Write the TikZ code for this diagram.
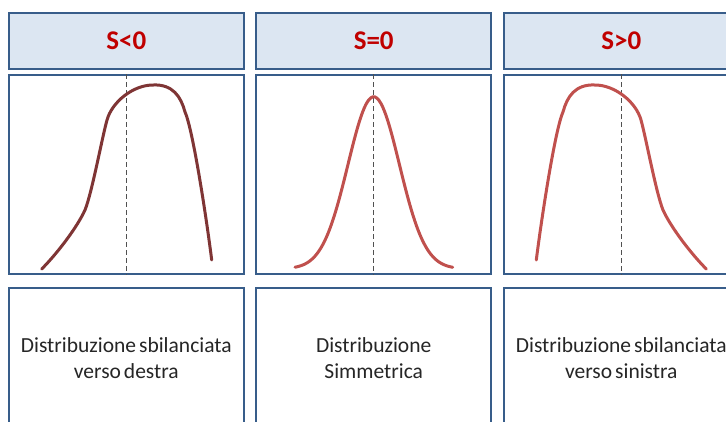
\documentclass[tikz,border=0pt]{standalone}
\usepackage{fontspec}
\setmainfont{Carlito}
\definecolor{bordblue}{HTML}{385D8A}
\definecolor{hdrfill}{HTML}{DCE6F2}
\definecolor{hdrred}{HTML}{C00000}
\definecolor{curvedark}{HTML}{7F3535}
\definecolor{curvered}{HTML}{C0504D}
\definecolor{dashgray}{HTML}{505050}
\newcommand\descfont{\fontsize{21.5}{26}\selectfont\spaceskip=3pt plus 1pt\relax}
\tikzset{
  hdr/.style={draw=bordblue, line width=2pt, fill=hdrfill, minimum width=234.5pt, minimum height=56.3pt, inner sep=0pt, text=hdrred, font=\fontsize{27}{32}\selectfont\bfseries},
  graphbox/.style={draw=bordblue, line width=2pt, fill=white, minimum width=234.5pt, minimum height=198.4pt, inner sep=0pt},
  descbox/.style={draw=bordblue, line width=2pt, fill=white, minimum width=234.5pt, minimum height=160pt, inner sep=0pt},
  desc/.style={align=center, font=\descfont, text=black!85, inner sep=0pt},
  meanline/.style={draw=dashgray, line width=1pt, dash pattern=on 5pt off 3pt},
  curveA/.style={draw=curvedark, line width=3pt, line cap=round},
  curveB/.style={draw=curvered, line width=3pt, line cap=round},
}
\newcommand\skewcurve[1]{%
  \draw[#1] (41.7,269) .. controls (56.7,254) and (77,227.6) .. (85,210)
    .. controls (92,192.5) and (102,138) .. (107,120)
    .. controls (112,102) and (133,85) .. (153,85)
    .. controls (173,84) and (181,97) .. (185,112)
    .. controls (193,129.6) and (206.7,220) .. (211.7,260);}
\begin{document}
\begin{tikzpicture}[x=1pt,y=-1pt]
\useasboundingbox (0,0) rectangle (726,421);
\begin{scope}
\clip (0,0) rectangle (726,421);
% headers
\node[hdr] (h1) at (126.3,40.85) {S<0};
\node[hdr] (h2) at (373.7,40.85) {S=0};
\node[hdr] (h3) at (621.3,40.85) {S>0};
% graph boxes
\node[graphbox] (g1) at (126.3,174.5) {};
\node[graphbox] (g2) at (373.7,174.5) {};
\node[graphbox] (g3) at (621.3,174.5) {};
% description boxes
\node[descbox] (d1) at (126.3,368.3) {};
\node[descbox] (d2) at (373.7,368.3) {};
\node[descbox] (d3) at (621.3,368.3) {};
% mean lines
\draw[meanline] (g1.north) -- (g1.south);
\draw[meanline] (g2.north) -- (g2.south);
\draw[meanline] (g3.north) -- (g3.south);
% curves
\skewcurve{curveA}
\draw[curveB] plot[domain=-78.7:79, samples=80, smooth] ({373.7+\x},{268.8-172*exp(-(\x*\x)/(2*25.7*25.7))});
\begin{scope}[shift={(748,0)}, xscale=-1]
\skewcurve{curveB}
\end{scope}
% texts
\node[desc] (t1) at (126.3,358) {Distribuzione sbilanciata\\verso destra};
\node[desc] (t2) at (373.7,358) {Distribuzione\\Simmetrica};
\node[desc] (t3) at (621.3,358) {Distribuzione sbilanciata\\verso sinistra};
\end{scope}
\end{tikzpicture}
\end{document}
